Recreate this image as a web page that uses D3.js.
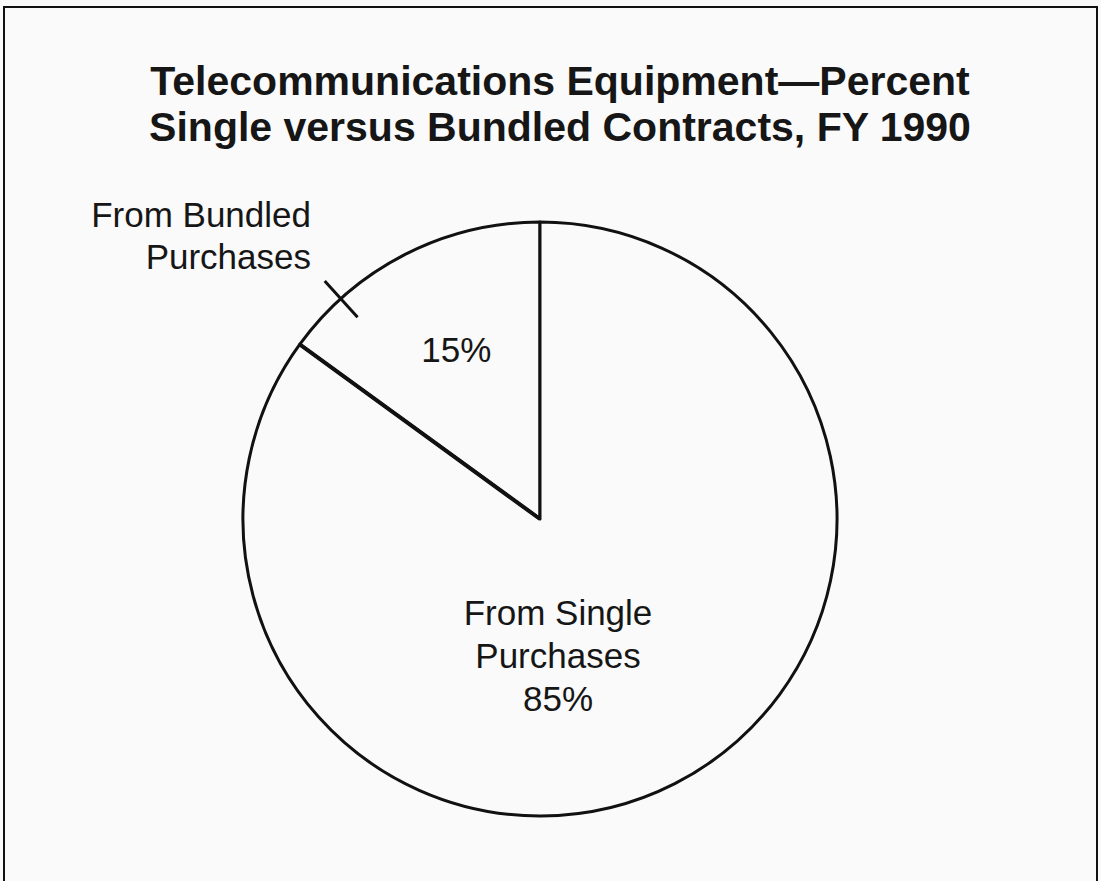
<!DOCTYPE html>
<meta charset="utf-8">
<style>
  body { margin: 0; background: #fafafa; }
  svg { display: block; font-family: "Liberation Sans", Arial, sans-serif; }
  .title { font-weight: bold; font-size: 41px; fill: #161616; }
  .lbl { font-size: 35px; fill: #161616; }
</style>
<svg width="1101" height="881"></svg>
<script src="https://d3js.org/d3.v7.min.js"></script>
<script>

// data
var categories = ["From Bundled Purchases", "From Single Purchases"];
var shares = [15, 85];
var shareLabels = ["15%", "85%"];
var titleLines = ["Telecommunications Equipment\u2014Percent", "Single versus Bundled Contracts, FY 1990"];

var svg = d3.select("svg"),
    width = +svg.attr("width"),
    height = +svg.attr("height");

// frame (bottom edge runs off the page)
svg.append("path")
    .attr("d", "M4," + height + "V7H1097V" + height)
    .attr("fill", "none")
    .attr("stroke", "#111")
    .attr("stroke-width", 2);

svg.selectAll("text.title")
  .data(titleLines)
  .enter().append("text")
    .attr("class", "title")
    .attr("x", 560)
    .attr("y", function(d, i) { return 95 + i * 46; })
    .attr("text-anchor", "middle")
    .text(function(d) { return d; });

var cx = 540, cy = 519, r = 297;

var pie = d3.pie()
    .sort(null)
    .startAngle(-2 * Math.PI * shares[0] / 100)
    .endAngle(2 * Math.PI - 2 * Math.PI * shares[0] / 100);

var arcs = pie(shares);

var arc = d3.arc().innerRadius(0).outerRadius(r);

var g = svg.append("g").attr("transform", "translate(" + cx + "," + cy + ")");

g.selectAll("path")
  .data(arcs)
  .enter().append("path")
    .attr("d", arc)
    .attr("fill", "#fafafa")
    .attr("stroke", "#111")
    .attr("stroke-width", 3)
    .attr("stroke-linejoin", "round");

// heavier slice divider
g.append("line")
    .attr("x1", 0).attr("y1", 0)
    .attr("x2", r * Math.sin(arcs[0].startAngle))
    .attr("y2", -r * Math.cos(arcs[0].startAngle))
    .attr("stroke", "#111")
    .attr("stroke-width", 4);

// 15% inside the small slice
var inner = d3.arc().innerRadius(r * 0.62).outerRadius(r * 0.62);
g.append("text")
    .attr("class", "lbl")
    .attr("transform", "translate(" + inner.centroid(arcs[0]) + ")")
    .attr("dy", 7)
    .attr("text-anchor", "middle")
    .text(shareLabels[0]);

// tick + outside label for bundled slice
var ta = arcs[0].startAngle + (arcs[0].endAngle - arcs[0].startAngle) * 0.22;
g.append("line")
    .attr("x1", (r - 25) * Math.sin(ta)).attr("y1", -(r - 25) * Math.cos(ta))
    .attr("x2", (r + 24) * Math.sin(ta)).attr("y2", -(r + 24) * Math.cos(ta))
    .attr("stroke", "#111")
    .attr("stroke-width", 3);

var bw = categories[0].split(" ");
svg.append("text")
    .attr("class", "lbl")
    .attr("text-anchor", "end")
    .selectAll("tspan")
  .data([bw[0] + " " + bw[1], bw[2]])
  .enter().append("tspan")
    .attr("x", 311)
    .attr("y", function(d, i) { return 227 + i * 42; })
    .text(function(d) { return d; });

// big slice label
var sw = categories[1].split(" ");
svg.append("text")
    .attr("class", "lbl")
    .attr("text-anchor", "middle")
    .selectAll("tspan")
  .data([sw[0] + " " + sw[1], sw[2], shareLabels[1]])
  .enter().append("tspan")
    .attr("x", cx + 18)
    .attr("y", function(d, i) { return cy + 106 + i * 43; })
    .text(function(d) { return d; });

</script>
